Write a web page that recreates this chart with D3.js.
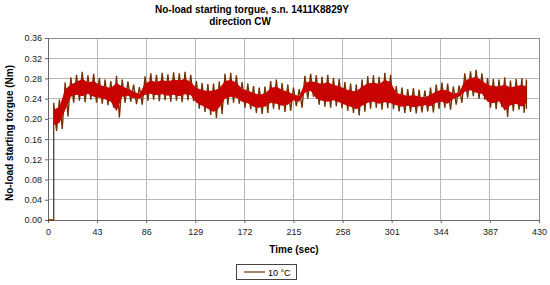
<!DOCTYPE html>
<html><head><meta charset="utf-8">
<script src="https://cdn.jsdelivr.net/npm/d3@7"></script>
<style>body{margin:0;background:#fff}svg{display:block;font-family:"Liberation Sans",Arial,sans-serif}</style>
</head><body><svg id="c" width="550" height="285"></svg>
<script>
const titleLines = ["No-load starting torgue, s.n. 1411K8829Y", "direction CW"];
const xTicks = [0, 43, 86, 129, 172, 215, 258, 301, 344, 387, 430];
const yTicks = [0, 0.04, 0.08, 0.12, 0.16, 0.20, 0.24, 0.28, 0.32, 0.36];
const seriesName = "10 °C";
const leadTime = [0, 5];
const leadValue = [0, 0];
const time = [5,10,15,20,25,30,35,40,45,50,55,60,65,70,75,80,85,90,95,100,105,110,115,120,125,130,135,140,145,150,155,160,165,170,175,180,185,190,195,200,205,210,215,220,225,230,235,240,245,250,255,260,265,270,275,280,285,290,295,300,305,310,315,320,325,330,335,340,345,350,355,360,365,370,375,380,385,390,395,400,405,410,415,419];
const peak = [0.232,0.238,0.272,0.282,0.287,0.293,0.286,0.289,0.281,0.278,0.275,0.285,0.278,0.274,0.268,0.263,0.284,0.290,0.287,0.291,0.288,0.292,0.290,0.293,0.287,0.275,0.271,0.269,0.270,0.274,0.289,0.291,0.286,0.273,0.270,0.265,0.262,0.264,0.275,0.278,0.271,0.268,0.262,0.259,0.285,0.289,0.286,0.283,0.287,0.281,0.279,0.273,0.270,0.268,0.278,0.284,0.286,0.283,0.291,0.287,0.265,0.262,0.259,0.261,0.258,0.256,0.262,0.268,0.272,0.270,0.264,0.266,0.290,0.294,0.297,0.290,0.281,0.279,0.278,0.282,0.276,0.279,0.281,0.278];
const trough = [0.176,0.180,0.205,0.232,0.236,0.233,0.238,0.232,0.230,0.227,0.222,0.203,0.232,0.234,0.229,0.228,0.236,0.238,0.235,0.237,0.234,0.236,0.233,0.237,0.235,0.220,0.214,0.208,0.202,0.210,0.228,0.232,0.230,0.222,0.219,0.212,0.210,0.212,0.220,0.218,0.214,0.216,0.225,0.222,0.240,0.244,0.228,0.224,0.222,0.225,0.221,0.216,0.212,0.207,0.214,0.220,0.222,0.218,0.221,0.219,0.215,0.212,0.214,0.211,0.213,0.215,0.213,0.220,0.222,0.218,0.228,0.232,0.242,0.245,0.240,0.238,0.222,0.219,0.223,0.204,0.215,0.218,0.212,0.220];

const svg = d3.select("#c");
const L = 48, R = 539, T = 38, B = 220;
const x = d3.scaleLinear().domain([0, 430]).range([L, R]);
const y = d3.scaleLinear().domain([0, 0.36]).range([B, T]);

svg.append("text").attr("x", 252).attr("y", 13).attr("text-anchor", "middle")
  .attr("font-size", 10).attr("font-weight", "bold").text(titleLines[0]);
svg.append("text").attr("x", 240).attr("y", 25).attr("text-anchor", "middle")
  .attr("font-size", 10).attr("font-weight", "bold").text(titleLines[1]);

const g = svg.append("g");
g.selectAll(".hg").data(yTicks).join("line")
  .attr("x1", L).attr("x2", R).attr("y1", d => y(d)).attr("y2", d => y(d))
  .attr("stroke", "#b8b8b8").attr("stroke-width", 1).attr("shape-rendering", "crispEdges");
g.selectAll(".vg").data(xTicks).join("line")
  .attr("x1", d => x(d)).attr("x2", d => x(d)).attr("y1", T).attr("y2", B)
  .attr("stroke", "#b8b8b8").attr("stroke-width", 1).attr("shape-rendering", "crispEdges");
g.append("rect").attr("x", L).attr("y", T).attr("width", R - L).attr("height", B - T)
  .attr("fill", "none").attr("stroke", "#8c8c8c").attr("shape-rendering", "crispEdges");

const xa = svg.append("g").attr("transform", `translate(0,${B})`)
  .call(d3.axisBottom(x).tickValues(xTicks).tickSize(3).tickFormat(d3.format("d")));
const ya = svg.append("g").attr("transform", `translate(${L},0)`)
  .call(d3.axisLeft(y).tickValues(yTicks).tickSize(3).tickFormat(d3.format(".2f")));
[xa, ya].forEach(a => {
  a.select(".domain").attr("stroke", "#666");
  a.selectAll(".tick line").attr("stroke", "#666");
  a.selectAll("text").attr("font-size", 9).attr("fill", "#222")
    .attr("font-family", "'Liberation Sans',Arial,sans-serif");
});
xa.selectAll("text").attr("dy", "0.95em");

const pts = leadTime.map((t, i) => [t, leadValue[i]]);
time.forEach((t, i) => {
  pts.push([t, peak[i]]);
  const tn = i < time.length - 1 ? (t + time[i + 1]) / 2 : t;
  pts.push([tn, trough[i]]);
});
const line = d3.line().x(d => x(d[0])).y(d => y(d[1]));
svg.append("path").datum(pts).attr("d", line)
  .attr("fill", "none").attr("stroke", "#6e3506").attr("stroke-width", 1.3);
const band = time.map((t, i) => ({t, hi: peak[i], lo: trough[i]}));
svg.append("path").datum(band)
  .attr("d", d3.area().x(d => x(d.t)).y0(d => y(d.lo) - 6).y1(d => y(d.hi) + 7))
  .attr("fill", "#cc0000");
// fine brown texture inside the band
svg.append("path").datum(pts.slice(2)).attr("d", line)
  .attr("fill", "none").attr("stroke", "#8a2a00").attr("stroke-width", 0.4).attr("opacity", 0.5);

svg.append("text").attr("x", 294).attr("y", 253).attr("text-anchor", "middle")
  .attr("font-size", 10).attr("font-weight", "bold").text("Time (sec)");
svg.append("text").attr("transform", "translate(13,133) rotate(-90)").attr("text-anchor", "middle")
  .attr("font-size", 10).attr("font-weight", "bold").text("No-load starting torgue (Nm)");

const lg = svg.append("g");
lg.append("rect").attr("x", 236.5).attr("y", 264.5).attr("width", 60).attr("height", 15)
  .attr("fill", "#fff").attr("stroke", "#444");
lg.append("line").attr("x1", 244).attr("x2", 265).attr("y1", 272).attr("y2", 272)
  .attr("stroke", "#6e3506").attr("stroke-width", 1.2);
lg.append("text").attr("x", 268).attr("y", 275.5).attr("font-size", 9).text(seriesName);
</script></body></html>
